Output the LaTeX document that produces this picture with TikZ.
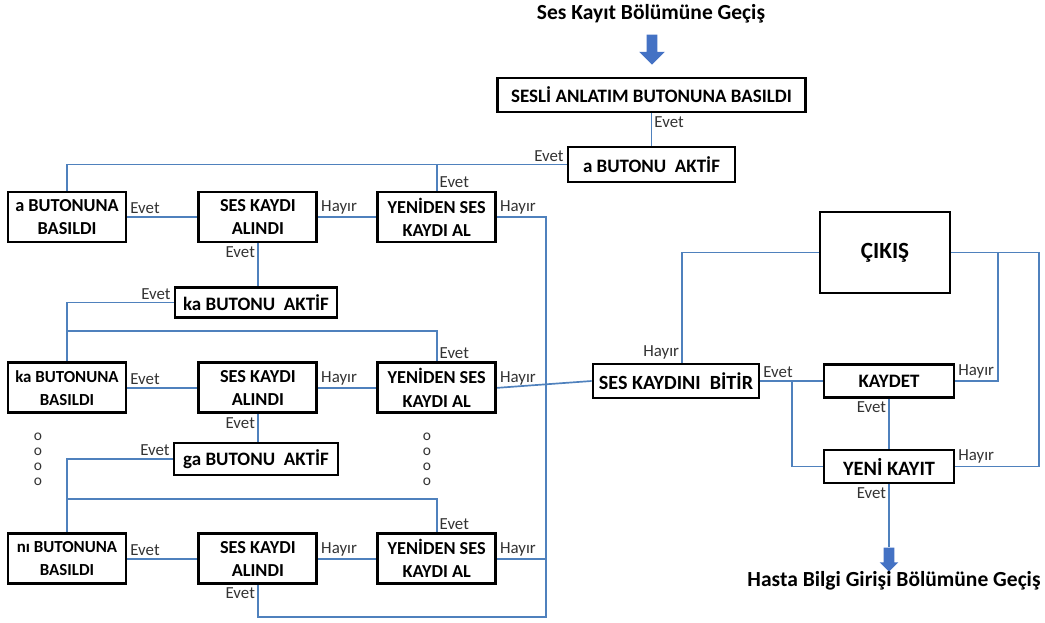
\documentclass[tikz,border=0pt]{standalone}
\usepackage{fontspec}
\setmainfont{Carlito}
\usetikzlibrary{positioning}
\usetikzlibrary{shapes.arrows}

\definecolor{linkblue}{HTML}{4F81BD}
\definecolor{arrowblue}{HTML}{4472C4}

\tikzset{
  box/.style={draw=black, line width=2pt, align=center, inner sep=2pt,
    font=\bfseries\fontsize{13}{16.5}\selectfont},
  bigbox/.style={box, font=\bfseries\fontsize{13.5}{16}\selectfont},
  rowbox/.style={box, minimum width=2.95cm, minimum height=1.25cm},
  narrowtext/.style={font=\bfseries\fontsize{12}{16.5}\selectfont},
  lbl/.style={inner sep=1.5pt, text=black!80, font=\fontsize{12}{13}\selectfont},
  link/.style={draw=linkblue, line width=1.2pt},
  flow/.style={single arrow, shape border rotate=270, fill=arrowblue, draw=none,
    inner sep=0.125cm},
  headline/.style={font=\bfseries\fontsize{15.3}{18}\selectfont}
}

\begin{document}
\begin{tikzpicture}[x=0.025cm,y=-0.025cm]
  \useasboundingbox (0,0) rectangle (1045,623);

  \node[headline] (Start) at (651,14) {Ses Kayıt Bölümüne Geçiş};
  \node[flow, minimum height=0.75cm, single arrow head extend=0.19cm] (StartArrow) at (652,47) {};
  \node[bigbox, minimum width=7.7cm, minimum height=0.85cm] (Sesli) at (651.5,95) {SESLİ ANLATIM BUTONUNA BASILDI};
  \node[bigbox, minimum width=4.175cm, minimum height=0.875cm] (AAktif) at (651.5,164.5) {a BUTONU~ AKTİF};

  \node[rowbox] (ABasildi) at (67,217)                               {a BUTONUNA\\BASILDI};
  \node[rowbox] (Kayit1)   [right=1.75cm of ABasildi]               {SES KAYDI\\ALINDI};
  \node[rowbox] (Yeniden1) [right=1.45cm of Kayit1]                 {YENİDEN SES\\KAYDI AL};
  \node[rowbox, narrowtext] (KBasildi) [below=2.95cm of ABasildi]   {ka BUTONUNA\\BASILDI};
  \node[rowbox] (Kayit2)   [below=2.95cm of Kayit1]                 {SES KAYDI\\ALINDI};
  \node[rowbox] (Yeniden2) [below=2.95cm of Yeniden1]               {YENİDEN SES\\KAYDI AL};
  \node[rowbox, narrowtext] (NBasildi) [below=2.95cm of KBasildi]   {nı BUTONUNA\\BASILDI};
  \node[rowbox] (Kayit3)   [below=2.95cm of Kayit2]                 {SES KAYDI\\ALINDI};
  \node[rowbox] (Yeniden3) [below=2.95cm of Yeniden2]               {YENİDEN SES\\KAYDI AL};

  \node[bigbox, minimum width=4.05cm, minimum height=0.75cm] (KAktif) at (256,302.5) {ka BUTONU~ AKTİF};
  \node[bigbox, minimum width=4.1cm, minimum height=0.8cm]   (GAktif) at (256,459)   {ga BUTONU~ AKTİF};

  \node[lbl, align=center, font=\fontsize{11}{10.7}\selectfont] (DotsL) at (38,459.5)  {o\\o\\o\\o};
  \node[lbl, align=center, font=\fontsize{11}{10.7}\selectfont] (DotsR) at (427,459.5) {o\\o\\o\\o};

  \node[bigbox, minimum width=3.25cm, minimum height=2.025cm,
        font=\bfseries\fontsize{16.5}{18}\selectfont] (Cikis) at (885,252.5) {ÇIKIŞ};
  \node[bigbox, minimum width=4.15cm, minimum height=0.85cm,
        font=\bfseries\fontsize{14.3}{16}\selectfont] (Bitir) at (676,381) {SES KAYDINI~ BİTİR};
  \node[bigbox, minimum width=3.25cm, minimum height=0.825cm] (Kaydet) at (889,381) {KAYDET};
  \node[bigbox, minimum width=3.25cm, minimum height=0.825cm,
        font=\bfseries\fontsize{14.5}{16}\selectfont] (YeniKayit) at (889,466.5) {YENİ KAYIT};
  \node[flow, minimum height=0.6cm, single arrow head extend=0.1cm] (EndArrow) at (889,557) {};
  \node[headline] (End) at (894,581) {Hasta Bilgi Girişi Bölümüne Geçiş};

  \coordinate (KJoin)      at (67,331);
  \coordinate (GJoin)      at (67,499);
  \coordinate (LoopCorner) at (546,617);
  \coordinate (EvetJoin)   at (792,381);
  \coordinate (CJoin)      at (998,252.5);
  \coordinate (CRight)     at (1039,252.5);

  \draw[link] (Sesli.south) node[lbl, anchor=north west] {Evet} -- (AAktif.north);
  \draw[link] (AAktif.west) node[lbl, anchor=south east] {Evet} -| (ABasildi.north);
  \draw[link] (Yeniden1.north |- AAktif.west) -- (Yeniden1.north) node[lbl, anchor=south west] {Evet};

  \draw[link] (ABasildi.east) node[lbl, anchor=south west] {Evet} -- (Kayit1.west);
  \draw[link] (Kayit1.east) node[lbl, anchor=south west] {Hayır} -- (Yeniden1.west);
  \draw[link] (Yeniden1.east) node[lbl, anchor=south west] {Hayır} -| (LoopCorner) -| (Kayit3.south)
              node[lbl, anchor=north east] {Evet};
  \draw[link] (Kayit1.south) node[lbl, anchor=north east] {Evet} -- (Kayit1.south |- KAktif.north);

  \draw[link] (KAktif.west) node[lbl, anchor=south east] {Evet} -| (KBasildi.north);
  \draw[link] (KJoin) -| (Yeniden2.north) node[lbl, anchor=south west] {Evet};
  \draw[link] (KBasildi.east) node[lbl, anchor=south west] {Evet} -- (Kayit2.west);
  \draw[link] (Kayit2.east) node[lbl, anchor=south west] {Hayır} -- (Yeniden2.west);
  \draw[link] (Yeniden2.east) node[lbl, anchor=south west] {Hayır} -- (Bitir.west);
  \draw[link] (Kayit2.south) node[lbl, anchor=north east] {Evet} -- (Kayit2.south |- GAktif.north);

  \draw[link] (GAktif.west) node[lbl, anchor=south east] {Evet} -| (NBasildi.north);
  \draw[link] (GJoin) -| (Yeniden3.north) node[lbl, anchor=south west] {Evet};
  \draw[link] (NBasildi.east) node[lbl, anchor=south west] {Evet} -- (Kayit3.west);
  \draw[link] (Kayit3.east) node[lbl, anchor=south west] {Hayır} -- (Yeniden3.west);
  \draw[link] (Yeniden3.east) node[lbl, anchor=south west] {Hayır} -- (Yeniden3.east -| LoopCorner);

  \draw[link] (Cikis.west) -| ([xshift=0.15cm]Bitir.north) node[lbl, anchor=south east] {Hayır};
  \draw[link] (Bitir.east) node[lbl, anchor=south west] {Evet} -- (Kaydet.west);
  \draw[link] (EvetJoin) |- (YeniKayit.west);
  \draw[link] (Kaydet.east) node[lbl, anchor=south west] {Hayır} -| (CJoin);
  \draw[link] (YeniKayit.east) node[lbl, anchor=south west] {Hayır} -| (CRight) -- (Cikis.east);
  \draw[link] (Kaydet.south) node[lbl, anchor=north east] {Evet} -- (YeniKayit.north);
  \draw[link] (YeniKayit.south) node[lbl, anchor=north east] {Evet} -- (EndArrow.north);
\end{tikzpicture}
\end{document}
